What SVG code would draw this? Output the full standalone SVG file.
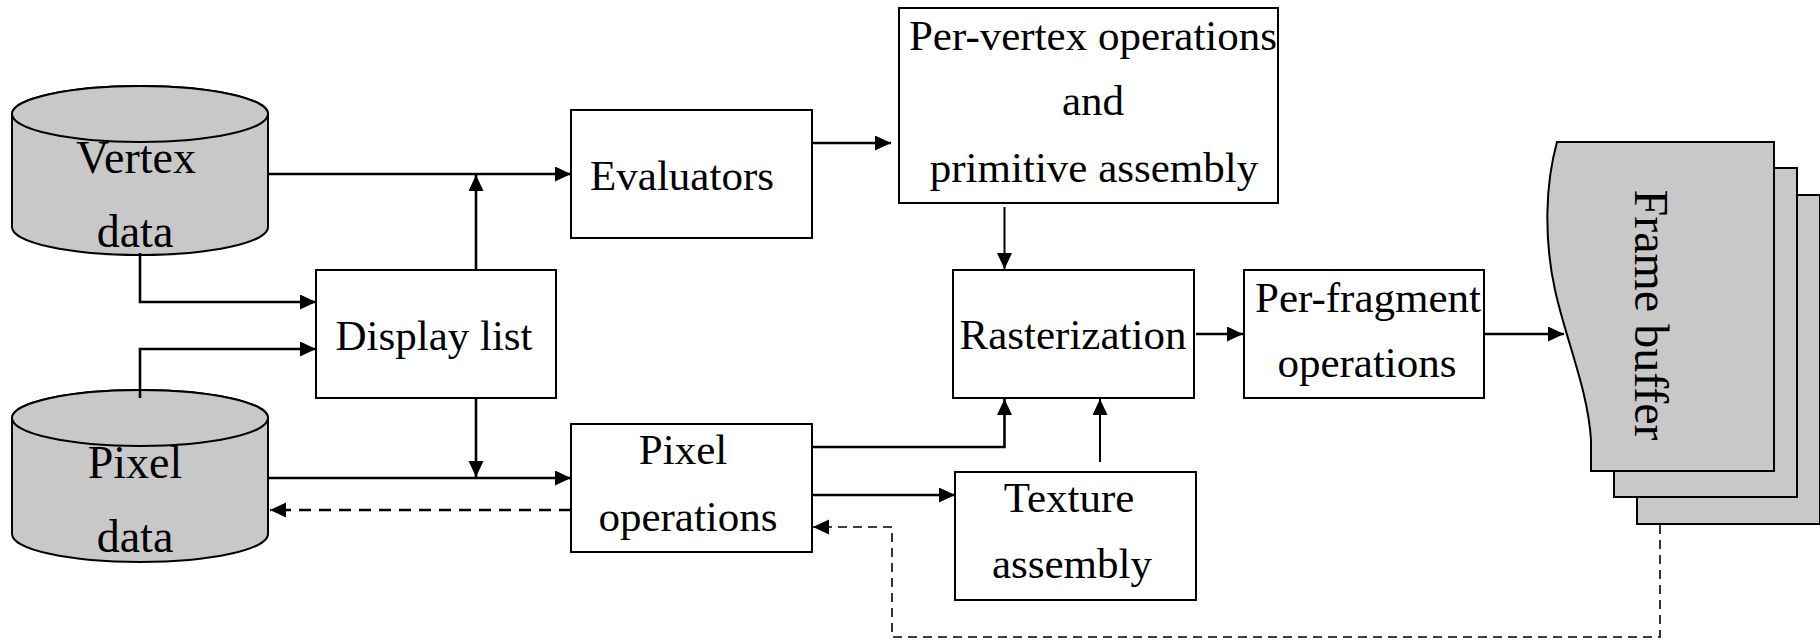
<svg xmlns="http://www.w3.org/2000/svg" width="1820" height="643" viewBox="0 0 1820 643">
<defs>
<style>
.box{fill:#fff;stroke:#000;stroke-width:2}
.gray{fill:#c8c8c8;stroke:#000;stroke-width:2}
.t{font-family:"Liberation Serif","Times New Roman",serif;font-size:43px;fill:#000;text-anchor:middle}
.tc{font-family:"Liberation Serif","Times New Roman",serif;font-size:46px;fill:#000;text-anchor:middle}
.c{fill:none;stroke:#000;stroke-width:2.6}
.thin{fill:none;stroke:#000;stroke-width:2}
.d{fill:none;stroke:#000;stroke-width:2.6;stroke-dasharray:12 8}
.d2{fill:none;stroke:#000;stroke-width:1.6;stroke-dasharray:9 6}
</style>
<marker id="ah" markerUnits="userSpaceOnUse" markerWidth="17" markerHeight="16" refX="16" refY="7.5" orient="auto">
<path d="M0,0 L16,7.5 L0,15 Z" fill="#000"/>
</marker>
</defs>
<rect width="1820" height="643" fill="#fff"/>

<g id="vertex-data">
<path class="gray" d="M12,114 L12,227 A128,28 0 0 0 268,227 L268,114 A128,28 0 0 0 12,114 Z"/>
<ellipse class="gray" cx="140" cy="114" rx="128" ry="28"/>
<text class="tc" x="136" y="173">Vertex</text>
<text class="tc" x="135" y="247">data</text>
</g>

<g id="pixel-data">
<path class="gray" d="M12,418 L12,534 A128,28 0 0 0 268,534 L268,418 A128,28 0 0 0 12,418 Z"/>
<ellipse class="gray" cx="140" cy="418" rx="128" ry="28"/>
<text class="tc" x="135" y="478">Pixel</text>
<text class="tc" x="135" y="552">data</text>
</g>

<g id="display-list">
<rect class="box" x="316" y="270" width="240" height="128"/>
<text class="t" x="434" y="350">Display list</text>
</g>

<g id="evaluators">
<rect class="box" x="571" y="110" width="241" height="128"/>
<text class="t" x="682" y="190">Evaluators</text>
</g>

<g id="per-vertex">
<rect class="box" x="899" y="8" width="379" height="195"/>
<text class="t" x="1093" y="50">Per-vertex operations</text>
<text class="t" x="1093" y="115">and</text>
<text class="t" x="1094" y="182">primitive assembly</text>
</g>

<g id="pixel-operations">
<rect class="box" x="571" y="424" width="241" height="128"/>
<text class="t" x="683" y="464">Pixel</text>
<text class="t" x="688" y="531">operations</text>
</g>

<g id="rasterization">
<rect class="box" x="953" y="270" width="241" height="128"/>
<text class="t" x="1073" y="349">Rasterization</text>
</g>

<g id="texture-assembly">
<rect class="box" x="955" y="472" width="241" height="128"/>
<text class="t" x="1069" y="512">Texture</text>
<text class="t" x="1072" y="578">assembly</text>
</g>

<g id="per-fragment">
<rect class="box" x="1244" y="270" width="240" height="128"/>
<text class="t" x="1368" y="312">Per-fragment</text>
<text class="t" x="1367" y="377">operations</text>
</g>

<g id="frame-buffer">
<path class="gray" transform="translate(46,53)" d="M1557,142 C1545,185 1544,240 1555,290 C1566,340 1588,390 1591,440 L1591,471 L1774,471 L1774,142 Z"/>
<path class="gray" transform="translate(23,26)" d="M1557,142 C1545,185 1544,240 1555,290 C1566,340 1588,390 1591,440 L1591,471 L1774,471 L1774,142 Z"/>
<path class="gray" d="M1557,142 C1545,185 1544,240 1555,290 C1566,340 1588,390 1591,440 L1591,471 L1774,471 L1774,142 Z"/>
<text transform="translate(1635,315) rotate(90)" x="0" y="0" style="font-family:'Liberation Serif','Times New Roman',serif;font-size:48px;text-anchor:middle">Frame buffer</text>
</g>

<g id="connectors">
<path class="c" d="M268,174 H571" marker-end="url(#ah)"/>
<path class="c" d="M476,270 V175" marker-end="url(#ah)"/>
<path class="c" d="M140,253 V302 H316" marker-end="url(#ah)"/>
<path class="c" d="M140,398 V349 H316" marker-end="url(#ah)"/>
<path class="c" d="M476,398 V477" marker-end="url(#ah)"/>
<path class="c" d="M268,478 H571" marker-end="url(#ah)"/>
<path class="d" d="M571,510 H270" marker-end="url(#ah)"/>
<path class="c" d="M812,143 H891" marker-end="url(#ah)"/>
<path class="thin" d="M1004.5,207 V269" marker-end="url(#ah)"/>
<path class="c" d="M812,447 H1004.5 V399" marker-end="url(#ah)"/>
<path class="thin" d="M1100,462 V399" marker-end="url(#ah)"/>
<path class="c" d="M812,495 H955" marker-end="url(#ah)"/>
<path class="c" d="M1196,334 H1243" marker-end="url(#ah)"/>
<path class="c" d="M1485,334 H1564" marker-end="url(#ah)"/>
<path class="d2" d="M1660,525 V637 H892 V527 H813" marker-end="url(#ah)"/>
</g>
</svg>
